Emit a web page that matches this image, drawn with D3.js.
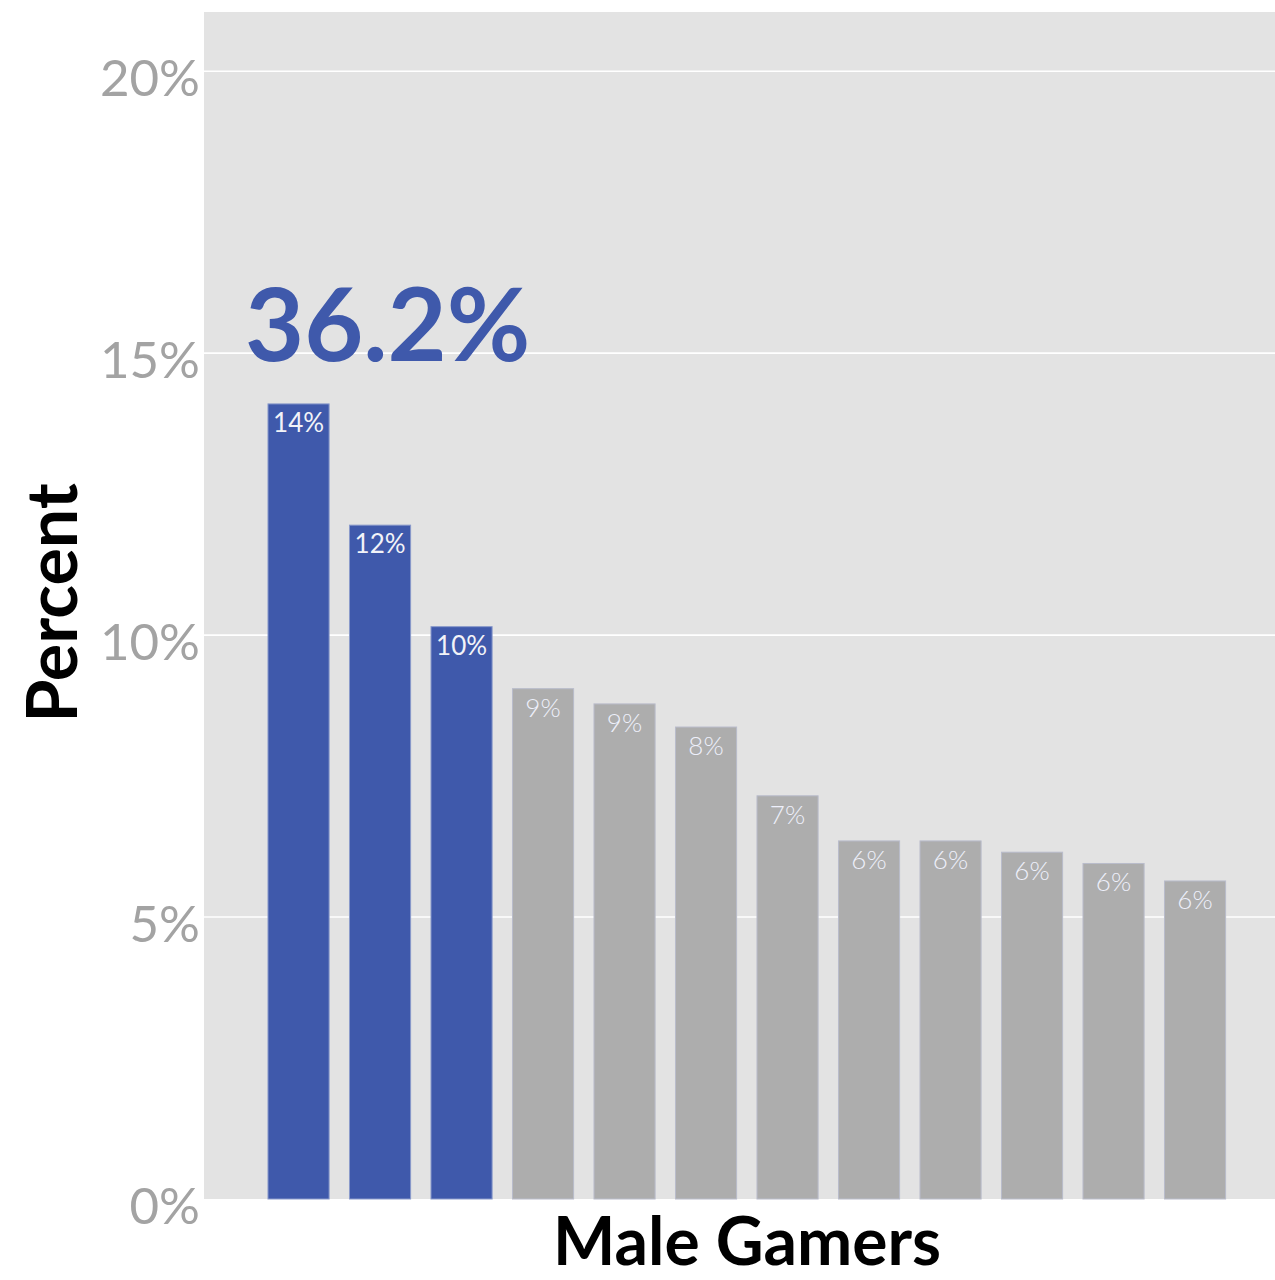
<!DOCTYPE html>
<html>
<head>
<meta charset="utf-8">
<script src="https://cdn.jsdelivr.net/npm/d3@7"></script>
<style>
  html, body { margin: 0; padding: 0; background: #ffffff; }
  svg { display: block; font-family: Lato, "Open Sans", sans-serif; }
</style>
</head>
<body>
<svg id="chart" width="1275" height="1280"></svg>
<script>
// Ranked shares of male gamers; the first three are highlighted
const categories = ["1", "2", "3", "4", "5", "6", "7", "8", "9", "10", "11", "12"];
const values = [14.1, 11.95, 10.15, 9.05, 8.78, 8.37, 7.15, 6.35, 6.35, 6.15, 5.95, 5.64];
const highlightCount = 3;
const yTicks = [0, 5, 10, 15, 20];
const yTickLabels = ["0%", "5%", "10%", "15%", "20%"];
const xTitle = "Male Gamers";
const yTitle = "Percent";

const svg = d3.select("#chart");
const panel = { left: 204, right: 1290, top: 12, bottom: 1199 };

const x = d3.scaleBand()
  .domain(categories)
  .range([257.8, 1235.8])
  .paddingInner(0.25)
  .paddingOuter(0.125);

const y = d3.scaleLinear()
  .domain([0, 21.05])
  .range([panel.bottom, panel.top]);

// panel background
svg.append("rect")
  .attr("x", panel.left).attr("y", panel.top)
  .attr("width", panel.right - panel.left)
  .attr("height", panel.bottom - panel.top)
  .attr("fill", "#e3e3e3");

// horizontal gridlines
svg.append("g")
  .selectAll("line")
  .data(yTicks.filter(d => d > 0))
  .join("line")
  .attr("x1", panel.left).attr("x2", panel.right)
  .attr("y1", d => y(d)).attr("y2", d => y(d))
  .attr("stroke", "#ffffff")
  .attr("stroke-width", 1.6);

// y axis labels
const yAxis = d3.axisLeft(y)
  .tickValues(yTicks)
  .tickFormat((d, i) => yTickLabels[i])
  .tickSize(0)
  .tickPadding(4);

const gy = svg.append("g")
  .attr("transform", `translate(${panel.left},0)`)
  .call(yAxis);
gy.select(".domain").remove();
gy.selectAll("text")
  .attr("font-family", "Lato, sans-serif")
  .attr("font-size", 51)
  .attr("fill", "#a3a3a3")
  .attr("dy", "0.48em");

// bars
const data = categories.map((c, i) => ({ c, v: values[i], hi: i < highlightCount }));

svg.append("g")
  .selectAll("rect")
  .data(data)
  .join("rect")
  .attr("x", d => x(d.c))
  .attr("y", d => y(d.v))
  .attr("width", x.bandwidth())
  .attr("height", d => y(0) - y(d.v))
  .attr("fill", d => d.hi ? "#3f59ab" : "#adadad")
  .attr("stroke", d => d.hi ? "#8a9acb" : "#b9bccb")
  .attr("stroke-width", 1);

// value labels inside the bar tops
svg.append("g")
  .selectAll("text")
  .data(data)
  .join("text")
  .attr("x", d => x(d.c) + x.bandwidth() / 2)
  .attr("y", d => y(d.v) + 28)
  .attr("text-anchor", "middle")
  .attr("font-size", 26)
  .attr("font-weight", d => d.hi ? 400 : 300)
  .attr("fill", d => d.hi ? "#f2f3f8" : "#eef0fb")
  .text(d => Math.round(d.v) + "%");

// combined share of the highlighted group
const topShare = d3.sum(values.slice(0, highlightCount));
svg.append("text")
  .attr("x", x(categories[0]) - 23)
  .attr("y", 361)
  .attr("font-size", 102)
  .attr("font-weight", 700)
  .attr("fill", "#3f59ab")
  .text(topShare.toFixed(1) + "%");

// axis titles
svg.append("text")
  .attr("x", (panel.left + 1290) / 2)
  .attr("y", 1265)
  .attr("text-anchor", "middle")
  .attr("font-size", 66)
  .attr("font-weight", 700)
  .attr("fill", "#000000")
  .text(xTitle);

svg.append("text")
  .attr("transform", `translate(77,${(487 + 719) / 2}) rotate(-90)`)
  .attr("text-anchor", "middle")
  .attr("font-size", 70)
  .attr("font-weight", 700)
  .attr("fill", "#000000")
  .text(yTitle);
</script>
</body>
</html>
